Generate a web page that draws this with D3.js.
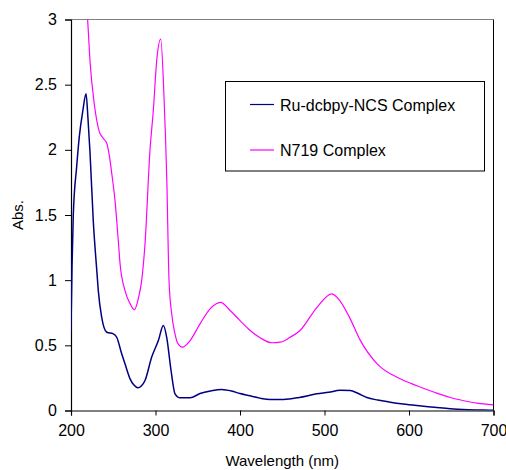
<!DOCTYPE html>
<html>
<head>
<meta charset="utf-8">
<script src="https://cdn.jsdelivr.net/npm/d3@7"></script>
<style>
  html, body { margin: 0; padding: 0; background: #fff; }
  svg { display: block; font-family: "Liberation Sans", Arial, sans-serif; }
</style>
</head>
<body>
<svg id="chart" width="506" height="470"></svg>
<script>
// ---- data ----
const seriesNames = ["Ru-dcbpy-NCS Complex", "N719 Complex"];
const xTicks = [200, 300, 400, 500, 600, 700];
const yTicks = [0, 0.5, 1, 1.5, 2, 2.5, 3];

const ruWavelength = [200, 201.2, 202.7, 206.7, 209.8, 214, 217.8, 220, 222.5, 226.4, 230.8, 232.3, 236.3, 242.3, 250.1, 254.1, 260, 263.9, 269.9, 274.5, 279, 283.5, 287.6, 295.5, 303.4, 309.3, 313.3, 318.4, 323.1, 329, 340.9, 352.7, 365, 378.4, 390, 400, 411.9, 423.5, 435.6, 451.4, 470, 490.9, 505, 518.5, 530.3, 540, 550.1, 563, 577.7, 593, 609.3, 630, 648.7, 670, 688.2, 700];
const ruAbs = [0.61, 1.1, 1.5, 1.87, 2.1, 2.3, 2.43, 2.25, 1.98, 1.45, 1.05, 0.92, 0.716, 0.60, 0.588, 0.562, 0.435, 0.358, 0.243, 0.195, 0.174, 0.19, 0.23, 0.41, 0.537, 0.652, 0.56, 0.307, 0.128, 0.097, 0.097, 0.13, 0.15, 0.162, 0.15, 0.13, 0.113, 0.095, 0.084, 0.085, 0.1, 0.128, 0.14, 0.155, 0.153, 0.13, 0.10, 0.08, 0.064, 0.05, 0.038, 0.025, 0.013, 0.006, 0.003, 0.002];

const n719Wavelength = [219.5, 222.5, 227.6, 233.5, 238, 242.3, 245.5, 248.2, 252.1, 256, 258, 263.9, 269.9, 275, 279.7, 283.7, 287.6, 293.5, 297.4, 301.5, 306.2, 310.1, 313.3, 316, 319.2, 323, 326, 331.8, 341, 352.7, 364.6, 377, 388.3, 400, 412, 423.8, 437.6, 447.5, 459.3, 471.1, 490.9, 508.7, 518.5, 530.3, 542.2, 562, 589.6, 609.3, 630, 648.7, 665, 680.3, 700];
const n719Abs = [3.02, 2.68, 2.35, 2.14, 2.09, 2.05, 1.95, 1.82, 1.61, 1.30, 1.13, 0.92, 0.82, 0.773, 0.86, 1.0, 1.28, 2.0, 2.3, 2.69, 2.85, 2.40, 1.79, 1.0, 0.74, 0.59, 0.52, 0.486, 0.537, 0.665, 0.78, 0.83, 0.767, 0.69, 0.614, 0.558, 0.52, 0.524, 0.562, 0.614, 0.79, 0.895, 0.84, 0.705, 0.54, 0.36, 0.243, 0.19, 0.14, 0.10, 0.075, 0.056, 0.043];

// ---- layout ----
const svg = d3.select("#chart");
const pLeft = 71, pRight = 493.5, pTop = 19.5, pBottom = 410.5;

const x = d3.scaleLinear().domain([200, 700]).range([pLeft, pRight]);
const y = d3.scaleLinear().domain([0, 3]).range([pBottom, pTop]);

svg.append("defs").append("clipPath").attr("id", "plotClip")
  .append("rect").attr("x", pLeft).attr("y", pTop).attr("width", pRight - pLeft).attr("height", pBottom - pTop);

// plot border (top grey, right dark)
svg.append("line").attr("x1", pLeft).attr("x2", pRight).attr("y1", pTop).attr("y2", pTop)
  .attr("stroke", "#808080").attr("stroke-width", 1);
svg.append("line").attr("x1", pRight).attr("x2", pRight).attr("y1", pTop).attr("y2", pBottom)
  .attr("stroke", "#000").attr("stroke-width", 1);

// axes
const xAxis = d3.axisBottom(x).tickValues(xTicks).tickSize(5).tickPadding(9).tickFormat(d3.format("d"));
const yAxis = d3.axisLeft(y).tickValues(yTicks).tickSize(6).tickPadding(8).tickFormat(d => String(d));

const gx = svg.append("g").attr("transform", `translate(0,${pBottom})`).call(xAxis);
const gy = svg.append("g").attr("transform", `translate(${pLeft},0)`).call(yAxis);
[gx, gy].forEach(g => {
  g.select(".domain").attr("stroke", "#000").attr("stroke-width", 1.2);
  g.selectAll(".tick line").attr("stroke", "#000");
  g.selectAll(".tick text").attr("fill", "#000").style("font-size", "16px")
    .style("font-family", '"Liberation Sans", Arial, sans-serif');
});

// axis titles
svg.append("text").attr("x", (pLeft + pRight) / 2).attr("y", 466)
  .attr("text-anchor", "middle").style("font-size", "15px").attr("fill", "#000")
  .text("Wavelength (nm)");
svg.append("text").attr("transform", `translate(23,${(pTop + pBottom) / 2}) rotate(-90)`)
  .attr("text-anchor", "middle").style("font-size", "15px").attr("fill", "#000")
  .text("Abs.");

// lines
const line = d3.line().x(d => x(d[0])).y(d => y(d[1])).curve(d3.curveMonotoneX);
const plot = svg.append("g").attr("clip-path", "url(#plotClip)");
plot.append("path").datum(n719Wavelength.map((w, i) => [w, n719Abs[i]]))
  .attr("d", line).attr("fill", "none").attr("stroke", "#FF00FF").attr("stroke-width", 1.2);
plot.append("path").datum(ruWavelength.map((w, i) => [w, ruAbs[i]]))
  .attr("d", line).attr("fill", "none").attr("stroke", "#000080").attr("stroke-width", 1.5);

// legend
const colors = ["#000080", "#FF00FF"];
const lg = svg.append("g");
lg.append("rect").attr("x", 225.5).attr("y", 81.5).attr("width", 259).attr("height", 89.5)
  .attr("fill", "#fff").attr("stroke", "#000").attr("stroke-width", 1);
seriesNames.forEach((name, i) => {
  const cy = 104.5 + i * 45.5;
  lg.append("line").attr("x1", 250).attr("x2", 274).attr("y1", cy).attr("y2", cy)
    .attr("stroke", colors[i]).attr("stroke-width", 1.2);
  lg.append("text").attr("x", 280).attr("y", cy + 6).style("font-size", "16px").attr("fill", "#000").text(name);
});
</script>
</body>
</html>
